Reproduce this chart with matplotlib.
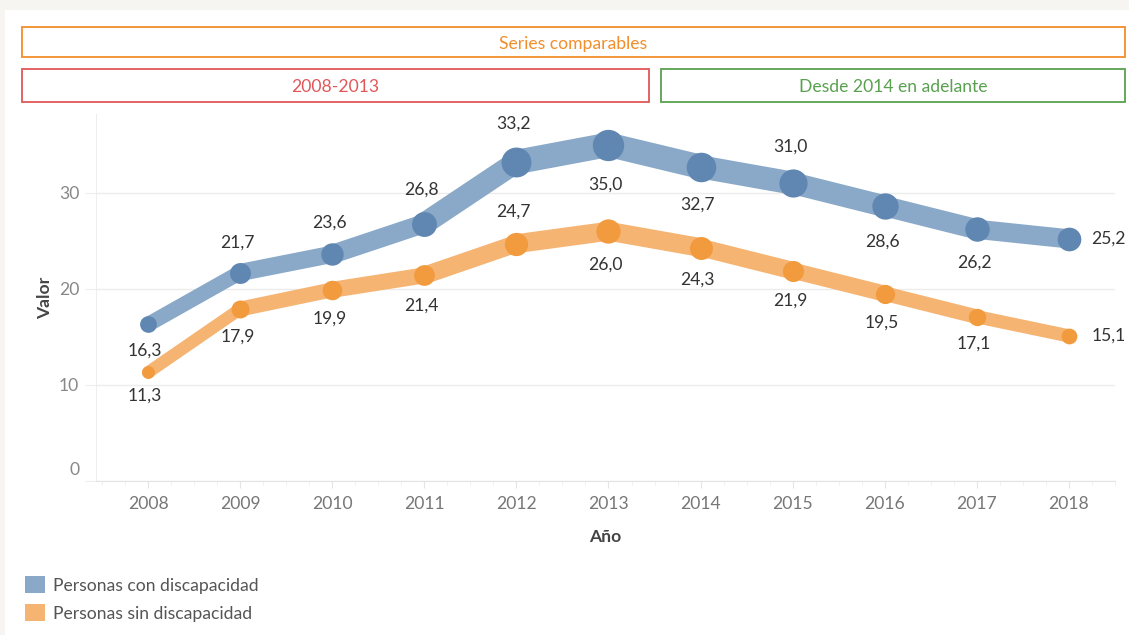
import numpy as np
import matplotlib.pyplot as plt
from matplotlib.patches import Rectangle
from matplotlib.transforms import ScaledTranslation

plt.rcParams['font.family'] = ['Lato', 'DejaVu Sans']

# data
years = [2008, 2009, 2010, 2011, 2012, 2013, 2014, 2015, 2016, 2017, 2018]
con_disc = [16.3, 21.7, 23.6, 26.8, 33.2, 35.0, 32.7, 31.0, 28.6, 26.2, 25.2]
sin_disc = [11.3, 17.9, 19.9, 21.4, 24.7, 26.0, 24.3, 21.9, 19.5, 17.1, 15.1]
series_names = ['Personas con discapacidad', 'Personas sin discapacidad']

# where each data label goes (a = above, b = below, r = right)
pos_con = ['b', 'a', 'a', 'a', 'a', 'b', 'b', 'a', 'b', 'b', 'r']
pos_sin = ['b', 'b', 'b', 'b', 'a', 'b', 'b', 'b', 'b', 'b', 'r']

FS = 12.6
W, H = 1129, 635
fig = plt.figure(figsize=(W / 100, H / 100), dpi=100, facecolor='#f6f5f1')

def fx(px):
    return px / W

def fy(py):
    return 1 - py / H

# white panel
fig.patches.append(Rectangle((fx(5), 0), 1 - fx(5), fy(10), transform=fig.transFigure,
                             facecolor='white', edgecolor='none', zorder=-5))

# header boxes
def header(x0, x1, y0, y1, color, text):
    fig.patches.append(Rectangle((fx(x0), fy(y1)), fx(x1) - fx(x0), fy(y0) - fy(y1),
                                 transform=fig.transFigure, facecolor='white',
                                 edgecolor=color, linewidth=1.3, zorder=1))
    fig.text(fx((x0 + x1) / 2), fy((y0 + y1) / 2 + 2), text, color=color, fontsize=FS,
             ha='center', va='center')

header(22, 1125, 27, 57, '#f28e2b', 'Series comparables')
header(22, 649, 69, 102, '#e15759', '2008-2013')
header(661, 1125, 69, 102, '#59a14f', 'Desde 2014 en adelante')

ax = fig.add_axes([fx(96), fy(481), fx(1115) - fx(96), fy(114) - fy(481)])
ax.set_zorder(3)
ax.set_facecolor('none')
ax.set_xlim(2007.435, 2018.5)
ax.set_ylim(0, 38.2)

band_cols = ['#8aa8c8', '#f6b473']
dot_cols = ['#5f87b2', '#f29a3e']


def diam(v):
    # marker diameter in px, grows with the value
    return 4 + 0.78 * v


for vals, pos, bc, dc in [(con_disc, pos_con, band_cols[0], dot_cols[0]),
                          (sin_disc, pos_sin, band_cols[1], dot_cols[1])]:
    for i in range(len(years) - 1):
        w = 0.8 * (diam(vals[i]) + diam(vals[i + 1])) / 2
        ax.plot(years[i:i + 2], vals[i:i + 2], color=bc, linewidth=w * 0.72,
                solid_capstyle='round', zorder=2)
    for x, v, p in zip(years, vals, pos):
        ax.plot(x, v, 'o', color=dc, markersize=diam(v) * 0.72, markeredgewidth=0,
                zorder=3)
        lab = f'{v:.1f}'.replace('.', ',')
        off = (15 + 0.7 * v) * 0.72
        if p == 'a':
            ax.annotate(lab, (x, v), xytext=(-2, off), textcoords='offset points',
                        ha='center', va='center', fontsize=FS, color='#333333', zorder=4)
        elif p == 'b':
            ax.annotate(lab, (x, v), xytext=(-2, -off), textcoords='offset points',
                        ha='center', va='center', fontsize=FS, color='#333333', zorder=4)
        else:
            ax.annotate(lab, (x, v), xytext=(16, 0), textcoords='offset points',
                        ha='left', va='center', fontsize=FS, color='#333333', zorder=4)

# axes styling
for s in ['top', 'right']:
    ax.spines[s].set_visible(False)
ax.spines['left'].set_color('#eeeeee')
ax.spines['bottom'].set_color('#e4e4e4')
ax.set_yticks([0, 10, 20, 30])
ax.set_xticks(years)
ax.set_xticks(np.arange(2007.5, 2018.51, 0.25), minor=True)
ax.tick_params(axis='y', length=8, color='#eeeeee', labelcolor='#888888', labelsize=FS, pad=4)
ax.tick_params(axis='x', which='major', length=5, color='#e4e4e4', labelcolor='#777777',
               labelsize=FS, pad=6)
ax.tick_params(axis='x', which='minor', length=3, color='#eeeeee')
ax.grid(axis='y', color='#ececec', linewidth=1)
ax.set_axisbelow(True)
for t in ax.get_yticklabels():
    if t.get_text() == '0':
        t.set_transform(t.get_transform() + ScaledTranslation(0, 9 / 72, fig.dpi_scale_trans))

ax.set_xlabel('Año', fontsize=FS, color='#444444', fontweight='bold', labelpad=12)
ax.set_ylabel('Valor', fontsize=FS, color='#444444', fontweight='bold', labelpad=4)

# legend
for i, (name, c) in enumerate(zip(series_names, band_cols)):
    y0 = 576 + i * 28
    fig.patches.append(Rectangle((fx(25), fy(y0 + 17)), fx(20), fy(0) - fy(17),
                                 transform=fig.transFigure, facecolor=c, edgecolor='none'))
    fig.text(fx(53), fy(y0 + 10), name, fontsize=FS, color='#555555', va='center')

fig.savefig('out.png', dpi=100, facecolor=fig.get_facecolor())
